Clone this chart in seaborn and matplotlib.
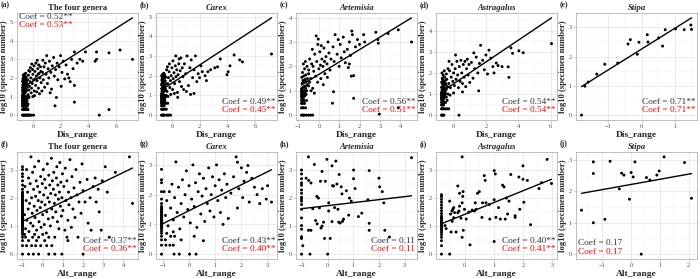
import pandas as pd
import seaborn as sns
import matplotlib.pyplot as plt
from matplotlib.ticker import MultipleLocator, AutoMinorLocator

# ---- points: (scaled range, log10 specimen number) ----
four_dis = [
    (-0.75, 0), (-0.7, 0), (-0.65, 0), (-0.6, 0), (-0.55, 0), (-0.5, 0), (-0.45, 0), (-0.4, 0),
    (-0.35, 0), (-0.3, 0), (-0.25, 0), (-0.2, 0), (-0.1, 0), (0.05, 0),
    (-0.75, .3), (-0.7, .3), (-0.65, .3), (-0.6, .3), (-0.55, .3), (-0.5, .3), (-0.45, .3), (-0.4, .3), (-0.35, .3),
    (-0.75, .48), (-0.7, .48), (-0.65, .48), (-0.6, .48), (-0.55, .48), (-0.5, .48), (-0.4, .48),
    (-0.75, .6), (-0.7, .6), (-0.65, .6), (-0.6, .6), (-0.5, .6), (-0.45, .6), (-0.35, .6),
    (-0.75, .7), (-0.7, .7), (-0.62, .7), (-0.55, .7), (-0.48, .7),
    (-0.75, .78), (-0.68, .78), (-0.6, .78), (-0.52, .78), (-0.42, .78),
    (-0.75, .85), (-0.7, .85), (-0.63, .85), (-0.55, .85), (-0.45, .85),
    (-0.73, .9), (-0.66, .9), (-0.58, .9), (-0.5, .9),
    (-0.74, .95), (-0.67, .95), (-0.6, .95), (-0.5, .95), (-0.38, .95),
    (-0.75, 1), (-0.7, 1), (-0.63, 1), (-0.55, 1), (-0.45, 1), (-0.3, 1),
    (-0.75, 1.08), (-0.7, 1.11), (-0.65, 1.15), (-0.6, 1.18), (-0.72, 1.2), (-0.55, 1.23), (-0.68, 1.26),
    (-0.5, 1.28), (-0.62, 1.3), (-0.75, 1.32), (-0.45, 1.34), (-0.58, 1.36), (-0.7, 1.4), (-0.52, 1.42),
    (-0.64, 1.45), (-0.75, 1.48), (-0.42, 1.5), (-0.56, 1.52), (-0.68, 1.55), (-0.48, 1.58), (-0.6, 1.6),
    (-0.73, 1.62), (-0.4, 1.65), (-0.54, 1.68), (-0.66, 1.7), (-0.46, 1.72), (-0.7, 1.75), (-0.58, 1.78),
    (-0.5, 1.8), (-0.74, 1.82), (-0.62, 1.85), (-0.44, 1.88), (-0.68, 1.9), (-0.55, 1.93), (-0.72, 1.96),
    (-0.6, 2.0), (-0.48, 2.03), (-0.66, 2.06), (-0.56, 2.1), (-0.7, 2.15), (-0.62, 2.2), (-0.52, 2.25),
    (-0.35, 1.1), (-0.3, 1.35), (-0.25, 1.55), (-0.2, 1.8), (-0.15, 2.0), (-0.1, 1.45), (-0.05, 1.7),
    (0.0, 2.2), (0.05, 1.9), (0.1, 1.3), (0.15, 2.35), (0.2, 1.6), (0.25, 2.1), (0.3, 1.85), (0.35, 2.5),
    (0.4, 1.45), (0.45, 2.25), (0.5, 2.0), (0.55, 2.6), (0.6, 1.75), (-0.38, 1.9), (-0.32, 2.15),
    (-0.28, 0.95), (-0.22, 2.35), (-0.12, 1.2), (-0.02, 2.45), (0.08, 2.65), (0.12, 1.05), (0.22, 2.8),
    (0.28, 1.25), (0.38, 2.2), (0.48, 1.15), (-0.18, 2.55), (0.0, 1.0), (0.32, 2.95), (0.42, 2.7),
    (-0.08, 2.75), (0.18, 1.95), (0.58, 2.35), (-0.3, 2.4),
    (0.7, 2.3), (0.75, 1.9), (0.8, 2.6), (0.85, 1.5), (0.9, 2.8), (0.95, 2.2), (1.0, 3.2), (1.05, 1.7),
    (1.1, 2.5), (1.15, 2.0), (1.2, 2.9), (1.3, 2.3), (1.35, 1.4), (1.4, 2.65), (1.5, 3.1), (1.55, 2.1),
    (1.6, 0.5), (1.65, 2.45), (1.7, 0.95), (1.75, 2.8), (1.8, 1.9), (1.9, 2.6), (2.0, 3.2), (2.1, 2.3),
    (2.2, 2.9), (2.3, 1.95), (2.4, 2.7), (2.5, 2.2), (2.6, 2.0), (2.7, 1.8), (2.8, 3.0), (2.9, 2.5),
    (3.0, 1.6), (3.0, 0.7), (3.0, 3.4), (3.2, 2.8), (3.4, 3.0), (3.6, 2.9), (3.8, 3.4), (0.65, 1.3),
    (0.72, 2.95), (1.25, 1.2), (2.05, 1.55),
    (4.5, 2.9), (4.6, 3.0), (4.6, 3.4), (4.8, 0.0), (5.5, 0.3), (5.5, 3.35), (6.3, 3.5), (7.2, 3.0),
]

carex_dis = [
    (-0.75, 0), (-0.7, 0), (-0.65, 0), (-0.6, 0), (-0.55, 0), (-0.4, 0), (-0.3, 0), (-0.2, 0), (-0.1, 0),
    (-0.75, .3), (-0.7, .3), (-0.65, .3), (-0.6, .3), (-0.5, .3), (-0.4, .3),
    (-0.75, .48), (-0.7, .48), (-0.65, .48), (-0.6, .48), (-0.55, .48),
    (-0.75, .6), (-0.7, .6), (-0.65, .6), (-0.55, .6), (-0.45, .6), (-0.3, .6),
    (-0.75, .7), (-0.68, .7), (-0.6, .7), (-0.5, .7),
    (-0.74, .78), (-0.66, .78), (-0.58, .78),
    (-0.75, .85), (-0.7, .85), (-0.6, .85), (-0.5, .85),
    (-0.72, .9), (-0.64, .9), (-0.55, .9),
    (-0.75, .95), (-0.68, .95), (-0.6, .95), (-0.45, .95),
    (-0.74, 1), (-0.66, 1), (-0.58, 1), (-0.5, 1), (-0.4, 1),
    (-0.75, 1.08), (-0.68, 1.12), (-0.6, 1.16), (-0.72, 1.2), (-0.52, 1.24), (-0.65, 1.28), (-0.45, 1.3),
    (-0.74, 1.34), (-0.58, 1.38), (-0.68, 1.42), (-0.5, 1.46), (-0.62, 1.5), (-0.75, 1.54), (-0.42, 1.58),
    (-0.55, 1.62), (-0.7, 1.66), (-0.6, 1.7), (-0.48, 1.74), (-0.73, 1.78), (-0.64, 1.82), (-0.54, 1.86),
    (-0.7, 1.9), (-0.45, 1.93), (-0.6, 1.96), (-0.74, 2.0), (-0.52, 2.04), (-0.66, 2.08), (-0.58, 2.12),
    (-0.7, 1.6),
    (-0.35, 1.2), (-0.3, 1.6), (-0.25, 1.9), (-0.2, 2.2), (-0.15, 1.4), (-0.1, 1.75), (-0.05, 2.0),
    (0.0, 2.4), (0.05, 1.3), (0.1, 1.85), (0.15, 2.15), (0.2, 1.6), (0.25, 2.5), (0.3, 1.95), (0.35, 2.3),
    (0.4, 1.15), (0.45, 2.05), (0.5, 2.6), (0.55, 1.7), (0.6, 2.25), (0.65, 2.9), (0.7, 1.45), (0.75, 2.4),
    (0.8, 1.95), (-0.38, 2.3), (-0.28, 0.95), (-0.18, 2.6), (-0.08, 1.05), (0.08, 2.75), (0.18, 1.1),
    (0.28, 3.0), (0.42, 0.9), (0.52, 2.85), (-0.32, 2.45),
    (0.9, 2.6), (1.0, 2.1), (1.1, 3.0), (1.2, 1.5), (1.3, 2.4), (1.4, 2.8), (1.5, 1.9), (1.6, 2.3),
    (1.7, 3.0), (1.8, 1.7), (1.9, 2.1), (2.0, 1.9), (2.1, 2.5), (2.2, 2.2), (2.6, 2.2), (2.8, 2.3),
    (3.1, 2.4), (3.3, 2.45), (3.5, 2.85), (1.05, 1.2), (1.35, 1.05), (0.85, 1.3), (1.6, 1.1), (2.5, 1.75),
    (2.4, 2.0),
    (3.98, 2.05), (4.07, 2.2), (4.2, 2.5), (4.5, 3.05), (4.9, 2.8), (5.1, 2.7), (7.2, 3.1),
]

artemisia_dis = [
    (-0.85, 0), (-0.8, 0), (-0.75, 0), (-0.7, 0), (-0.6, 0), (-0.5, 0), (-0.4, 0), (-0.3, 0),
    (-0.85, .3), (-0.8, .3), (-0.75, .3), (-0.65, .3),
    (-0.85, .48), (-0.78, .48), (-0.7, .48),
    (-0.85, .6), (-0.8, .6), (-0.72, .6), (-0.6, .6),
    (-0.84, .7), (-0.76, .7),
    (-0.85, .78), (-0.78, .78), (-0.7, .78),
    (-0.85, .85), (-0.8, .85), (-0.7, .85), (-0.62, .85),
    (-0.82, .9), (-0.74, .9),
    (-0.85, .95), (-0.78, .95), (-0.68, .95),
    (-0.85, 1), (-0.8, 1), (-0.72, 1), (-0.6, 1),
    (-0.85, 1.08), (-0.8, 1.12), (-0.75, 1.15), (-0.7, 1.18), (-0.65, 1.1), (-0.6, 1.22), (-0.55, 1.26),
    (-0.82, 1.3), (-0.72, 1.34), (-0.62, 1.38), (-0.5, 1.2), (-0.78, 1.42), (-0.68, 1.46), (-0.56, 1.5),
    (-0.45, 1.35), (-0.84, 1.55), (-0.74, 1.6), (-0.64, 1.65), (-0.5, 1.7), (-0.8, 1.75), (-0.7, 1.9),
    (-0.58, 2.0), (-0.76, 2.1), (-0.66, 2.2), (-0.5, 1.85),
    (-0.45, 2.3), (-0.4, 1.5), (-0.35, 2.1), (-0.3, 1.1), (-0.25, 1.8), (-0.2, 2.5), (-0.15, 1.6),
    (-0.1, 2.2), (-0.05, 2.9), (0.0, 1.9), (0.05, 2.6), (0.1, 1.5), (0.15, 2.3), (0.2, 2.0), (0.25, 2.75),
    (0.3, 1.7), (0.35, 2.4), (0.4, 2.1), (0.45, 3.0), (0.5, 2.55), (0.55, 1.85), (0.6, 2.3), (-0.13, 3.25),
    (-0.03, 3.12), (-0.38, 1.0), (-0.22, 0.9), (-0.32, 2.7), (0.12, 2.85), (0.28, 2.2), (0.42, 1.55),
    (-0.06, 1.35), (0.22, 1.25), (-0.28, 2.0), (0.08, 2.05),
    (0.7, 2.8), (0.75, 2.2), (0.8, 3.3), (0.9, 2.5), (0.95, 3.1), (1.0, 2.0), (1.05, 2.9), (1.1, 2.35),
    (1.2, 3.2), (1.25, 2.6), (1.3, 2.15), (1.4, 2.7), (1.45, 1.95), (1.5, 3.0), (1.55, 2.45), (1.6, 1.6),
    (1.62, 3.45), (1.65, 3.3), (1.71, 0.69), (1.71, 1.62), (1.8, 2.8), (1.9, 3.1), (2.0, 2.9), (2.2, 3.3),
    (2.25, 3.0), (2.8, 3.4), (2.9, 3.1), (2.92, 2.95), (0.67, 0.49), (0.72, 0.96), (1.5, 2.1), (2.97, 0.04),
    (3.4, 3.35), (3.9, 3.5), (4.55, 3.0), (3.9, 0.3),
]

astragalus_dis = [
    (-0.75, 0), (-0.7, 0), (-0.65, 0), (-0.6, 0), (0.33, 0),
    (-0.75, .3), (-0.7, .3), (-0.65, .3), (-0.6, .3), (-0.5, .3), (-0.4, .3), (-0.3, .3),
    (-0.75, .48), (-0.7, .48), (-0.62, .48),
    (-0.75, .6), (-0.68, .6), (-0.6, .6), (-0.5, .6),
    (-0.74, .7), (-0.66, .7), (-0.4, .7),
    (-0.75, .78), (-0.7, .78), (-0.6, .78),
    (-0.75, .85), (-0.68, .85), (-0.58, .85), (-0.45, .85),
    (-0.72, .9), (-0.62, .9),
    (-0.75, .95), (-0.66, .95), (-0.55, .95),
    (-0.75, 1), (-0.7, 1), (-0.6, 1), (-0.5, 1), (-0.35, 1),
    (-0.75, 1.08), (-0.68, 1.12), (-0.6, 1.16), (-0.52, 1.1), (-0.72, 1.2), (-0.64, 1.24), (-0.55, 1.28),
    (-0.45, 1.22), (-0.75, 1.32), (-0.66, 1.36), (-0.58, 1.4), (-0.48, 1.44), (-0.7, 1.48), (-0.6, 1.52),
    (-0.38, 1.35), (-0.74, 1.56), (-0.64, 1.6), (-0.52, 1.64), (-0.42, 1.7), (-0.7, 1.75), (-0.56, 1.8),
    (-0.65, 1.9), (-0.45, 1.95), (-0.72, 2.0), (-0.58, 2.1), (-0.35, 2.2), (-0.68, 1.68), (-0.5, 1.5),
    (-0.3, 1.5), (-0.25, 2.1), (-0.2, 1.3), (-0.15, 1.8), (-0.1, 2.4), (-0.05, 1.6), (0.0, 2.0),
    (0.05, 1.4), (0.1, 2.2), (0.15, 1.7), (0.2, 2.55), (0.25, 1.9), (0.3, 1.3), (0.35, 2.3), (0.4, 1.6),
    (0.45, 2.6), (0.5, 2.0), (0.55, 1.5), (0.6, 2.4), (0.65, 1.8), (0.7, 2.55), (0.75, 1.35), (0.8, 2.2),
    (0.85, 2.65), (0.9, 1.9), (0.95, 2.4), (1.0, 1.55), (-0.22, 0.95), (0.0, 1.05), (0.12, 2.85),
    (-0.28, 2.55), (0.55, 1.1),
    (1.1, 2.5), (1.2, 1.75), (1.3, 2.2), (1.4, 2.75), (1.5, 2.0), (1.6, 2.45), (1.67, 3.31), (1.8, 2.6),
    (1.9, 2.15), (2.0, 2.85), (2.1, 1.95), (2.19, 3.08), (2.3, 2.7), (2.43, 2.3), (2.5, 2.0), (2.64, 2.47),
    (2.75, 2.35), (3.0, 2.3), (3.42, 1.79), (3.38, 2.29), (3.55, 3.19), (3.65, 2.93), (4.04, 3.05),
    (4.31, 2.96), (6.06, 3.39), (1.55, 1.15), (1.25, 2.95),
]

stipa_dis = [
    (-1.81, 0), (-1.71, 0.99), (-1.61, 1.13), (-1.35, 1.40), (-1.11, 1.74), (-0.72, 1.78),
    (-0.41, 2.43), (-0.34, 2.58), (-0.13, 2.08), (-0.08, 2.49), (0.17, 2.75), (0.19, 2.50),
    (0.51, 2.64), (0.63, 2.36), (0.71, 2.92), (1.02, 2.95), (1.28, 2.92), (1.48, 3.08), (1.50, 2.93),
]

four_alt = [
    (-1.0, 0), (-1.0, .3), (-1.0, .48), (-1.0, .6), (-1.0, .7), (-1.0, .78), (-1.0, .85), (-1.0, .9),
    (-1.0, .95), (-1.0, 1.0), (-1.0, 1.04), (-1.0, 1.08), (-1.0, 1.11), (-1.0, 1.15), (-1.0, 1.18),
    (-1.0, 1.2), (-1.0, 1.23), (-1.0, 1.26), (-1.0, 1.28), (-1.0, 1.3), (-1.0, 1.32), (-1.0, 1.34),
    (-1.0, 1.36), (-1.0, 1.4), (-1.0, 1.45), (-1.0, 1.5), (-1.0, 1.55), (-1.0, 1.6), (-1.0, 1.65),
    (-1.0, 1.7), (-1.0, 1.75), (-1.0, 1.8), (-1.0, 1.85), (-1.0, 1.9), (-1.0, 1.95), (-1.0, 2.0),
    (-1.0, 2.05), (-1.0, 2.1), (-1.0, 2.15), (-1.0, 2.2), (-1.0, 2.3), (-1.0, 2.45), (-1.0, 2.6),
    (-1.0, 2.75), (-1.0, 2.85), (-1.0, 3.0), (-1.0, 3.1),
    (-0.9, 1.4), (-0.88, 2.4), (-0.85, 0.9), (-0.82, 1.9), (-0.8, 3.0), (-0.78, 1.2), (-0.75, 2.2),
    (-0.72, 1.6), (-0.7, 2.7), (-0.68, 0.8), (-0.65, 1.8), (-0.62, 2.5), (-0.6, 1.1), (-0.58, 3.45),
    (-0.55, 2.0), (-0.52, 1.45), (-0.5, 2.9),
    (-0.48, 1.0), (-0.45, 2.3), (-0.42, 1.7), (-0.4, 3.1), (-0.38, 1.3), (-0.35, 2.05), (-0.32, 2.6),
    (-0.3, 0.85), (-0.28, 1.55), (-0.25, 2.4), (-0.22, 1.9), (-0.2, 3.3), (-0.18, 1.15), (-0.15, 2.2),
    (-0.12, 1.65), (-0.1, 2.75), (-0.08, 0.95), (-0.05, 1.85), (-0.02, 2.5),
    (0.0, 1.4), (0.03, 3.0), (0.05, 2.1), (0.08, 1.05), (0.1, 2.65), (0.12, 1.75), (0.15, 2.35),
    (0.18, 0.75), (0.2, 1.5), (0.23, 3.2), (0.25, 2.0), (0.28, 1.25), (0.3, 2.8), (0.33, 1.85),
    (0.35, 2.45), (0.38, 1.0), (0.4, 2.15), (0.43, 3.4), (0.45, 1.6), (0.48, 2.6),
    (0.5, 1.3), (0.53, 2.3), (0.55, 2.9), (0.58, 1.8), (0.6, 0.6), (0.63, 2.1), (0.65, 1.5), (0.68, 2.7),
    (0.7, 3.1), (0.73, 1.15), (0.75, 2.45), (0.78, 1.95), (0.8, 0.9), (0.83, 2.2), (0.85, 3.25),
    (0.88, 1.7), (0.9, 2.55), (0.93, 1.35), (0.95, 2.0), (0.98, 2.85),
    (1.0, 1.55), (1.05, 2.4), (1.1, 0.85), (1.12, 3.05), (1.15, 1.9), (1.2, 2.6), (1.25, 1.2), (1.28, 2.2),
    (1.3, 1.75), (1.35, 3.35), (1.4, 2.0), (1.42, 0.95), (1.45, 2.75), (1.5, 1.6),
    (1.55, 2.35), (1.6, 1.3), (1.65, 3.0), (1.7, 2.1), (1.75, 0.6), (1.8, 1.85), (1.85, 2.55), (1.9, 1.45),
    (1.95, 3.2), (2.0, 0.0), (2.0, 2.25),
    (2.1, 1.85), (2.2, 2.65), (2.25, 1.1), (2.35, 2.0), (2.4, 0.85), (2.5, 2.4), (2.6, 2.7), (2.65, 1.85),
    (2.75, 2.3), (2.8, 1.5), (2.9, 0.85), (2.95, 2.6),
    (3.1, 3.1), (3.2, 2.2), (3.3, 0.6), (3.6, 2.9), (4.3, 3.45), (4.45, 1.8),
    (-0.7, 0), (-0.46, 0), (-0.2, 0), (0.3, 0), (0.6, 0), (0.95, 0),
    (-0.8, .3), (-0.55, .3), (-0.35, .3), (-0.1, .3), (0.2, .3), (0.45, .3),
    (-0.7, .48), (-0.3, .48), (0.1, .48), (1.25, .48),
    (-0.85, .6), (-0.5, .6), (-0.2, .6), (0.3, .6), (1.2, .6),
    (-0.9, .7), (-0.4, .7), (0.0, .7),
]

carex_alt = [
    (-1.05, 0), (-1.05, .3), (-1.05, .48), (-1.05, .6), (-1.05, .7), (-1.05, .78), (-1.05, .85),
    (-1.05, .9), (-1.05, .95), (-1.05, 1.0), (-1.05, 1.04), (-1.05, 1.08), (-1.05, 1.11), (-1.05, 1.15),
    (-1.05, 1.18), (-1.05, 1.2), (-1.05, 1.23), (-1.05, 1.26), (-1.05, 1.3), (-1.05, 1.34), (-1.05, 1.38),
    (-1.05, 1.42), (-1.05, 1.46), (-1.05, 1.5), (-1.05, 1.55), (-1.05, 1.6), (-1.05, 1.7), (-1.05, 1.85),
    (-1.05, 2.1), (-1.05, 2.4), (-1.05, 2.5), (-1.05, 2.85),
    (-0.57, 0), (-0.37, 0), (0.02, 0), (0.27, 0),
    (-0.88, .3), (-0.73, .3), (-0.6, .3),
    (-0.9, .48), (-0.7, .6), (-0.85, .7), (-0.55, .6), (-0.3, .48),
    (-0.95, 2.1), (-0.9, 1.3), (-0.85, 1.8), (-0.8, 0.95), (-0.75, 2.1), (-0.7, 1.55), (-0.65, 2.35),
    (-0.6, 1.15), (-0.55, 1.9), (-0.5, 3.1), (-0.45, 1.4), (-0.4, 2.25), (-0.35, 0.85), (-0.3, 1.7),
    (-0.25, 2.5), (-0.2, 1.25), (-0.15, 2.0), (-0.1, 2.8), (-0.05, 1.5), (0.0, 2.3),
    (0.05, 1.05), (0.1, 1.85), (0.15, 3.0), (0.2, 1.6), (0.25, 2.4), (0.3, 0.9), (0.35, 2.1), (0.4, 2.7),
    (0.45, 1.35), (0.5, 1.95), (0.55, 2.55), (0.6, 1.1), (0.65, 2.2), (0.7, 1.7), (0.75, 2.9),
    (0.8, 1.45), (0.85, 2.0), (0.9, 2.6), (0.95, 1.25), (1.0, 2.3),
    (1.05, 3.0), (1.1, 1.8), (1.15, 2.5), (1.2, 1.4), (1.25, 2.15), (1.3, 1.0), (1.35, 2.7), (1.4, 1.9),
    (1.45, 2.35), (1.5, 1.2), (1.6, 2.05), (1.7, 2.6), (1.8, 3.27), (1.85, 3.09), (1.85, 1.55),
    (1.9, 2.2), (2.0, 2.9), (2.05, 1.9), (2.1, 2.45), (2.25, 2.98), (2.2, 2.75), (2.3, 1.75), (2.4, 2.55),
    (2.5, 2.25), (2.6, 2.0), (2.7, 1.7), (2.8, 2.2), (2.95, 1.85), (3.0, 2.3), (3.15, 1.75),
    (-0.6, 0.75), (0.2, 0.6), (0.55, 0.45),
]

artemisia_alt = [
    (-1.02, 0), (-1.02, 0.56), (-1.02, 0.62), (-1.02, 0.89), (-1.02, 1.02), (-1.02, 1.29),
    (-1.02, 1.6), (-1.02, 1.77), (-1.02, 1.89), (-1.02, 1.97), (-1.02, 2.03), (-1.02, 2.17),
    (-1.02, 2.29), (-1.02, 2.46), (-1.02, 2.54), (-1.02, 2.69), (-1.02, 2.86), (-1.02, 3.0),
    (-0.97, 0.3), (-0.75, 3.47), (-0.69, 0), (-0.75, 0.85), (-0.65, 0.85), (-0.84, 2.71),
    (-0.74, 2.63), (-0.65, 2.54), (-0.58, 1.62), (-0.52, 3.2), (-0.42, 2.06), (-0.36, 2.0),
    (-0.47, 1.2), (-0.41, 1.08), (-0.32, 1.65), (-0.28, 2.6), (-0.22, 2.95), (-0.26, 0.93),
    (-0.16, 1.14), (-0.12, 0.56), (-0.09, 2.6), (-0.03, 3.38), (0.0, 0), (0.04, 1.54),
    (0.1, 0.56), (0.17, 3.15), (0.19, 2.44), (0.23, 2.43), (0.27, 1.66), (0.32, 3.32),
    (0.36, 2.5), (0.4, 1.6), (0.43, 1.14), (0.45, 2.84), (0.49, 1.11), (0.53, 2.4),
    (0.56, 2.15), (0.62, 1.25), (0.73, 2.26), (0.82, 1.39), (0.85, 2.0), (0.92, 1.89),
    (1.01, 3.0), (1.01, 2.69), (1.07, 2.34), (1.2, 1.34), (1.33, 1.46), (1.62, 2.98),
    (1.62, 1.1), (1.62, 0.85), (1.57, 1.94), (2.0, 2.71), (2.03, 2.4), (2.13, 2.23),
    (2.23, 0.85), (2.19, 1.83), (2.41, 0.61), (3.27, 3.44), (-0.22, 1.0), (0.04, 1.83),
    (0.17, 1.16), (0.58, 1.17),
]

astragalus_alt = [
    (-0.8, 0), (-0.8, .3), (-0.8, .48), (-0.8, .6), (-0.8, .7), (-0.8, .78), (-0.8, .85), (-0.8, .9),
    (-0.8, .95), (-0.8, 1.0), (-0.8, 1.04), (-0.8, 1.08), (-0.8, 1.11), (-0.8, 1.15), (-0.8, 1.2),
    (-0.8, 1.25), (-0.8, 1.3), (-0.8, 1.36), (-0.8, 1.45), (-0.8, 1.55), (-0.8, 1.65), (-0.8, 1.75),
    (-0.8, 1.85), (-0.8, 1.95), (-0.8, 2.05), (-0.8, 2.12),
    (-0.52, 0), (-0.64, 0.91), (-0.52, 1.89), (-0.49, 1.43), (-0.44, 1.54), (-0.41, 1.6), (-0.38, 1.66),
    (-0.35, 1.48), (-0.38, 1.3), (-0.43, 1.17), (-0.47, 0.79), (-0.3, 0.79), (-0.24, 1.48), (-0.2, 1.54),
    (-0.18, 1.71), (-0.24, 2.43), (-0.18, 2.17), (-0.13, 1.28), (-0.09, 1.83), (-0.09, 0.6),
    (-0.09, 3.47), (-0.07, 2.06), (-0.06, 2.23), (-0.05, 0.85), (-0.01, 1.6), (0.05, 1.25),
    (0.14, 1.5), (0.18, 0.33), (0.25, 1.57), (0.33, 1.54), (0.36, 1.83), (0.39, 1.6), (0.44, 2.17),
    (0.5, 2.23), (0.59, 1.31), (0.61, 1.83), (0.67, 2.8), (0.7, 2.63), (0.73, 1.83), (0.84, 1.77),
    (0.86, 1.25), (1.01, 2.98), (1.01, 0.45), (1.05, 2.86), (1.01, 1.94), (1.07, 1.31), (1.16, 1.66),
    (1.22, 1.25), (1.3, 2.46), (1.35, 2.4), (1.39, 1.25), (1.43, 2.0), (1.47, 1.43), (1.52, 1.89),
    (1.58, 2.84), (1.73, 1.37), (1.73, 1.31), (1.86, 2.75), (1.89, 1.6), (2.0, 3.15), (2.0, 2.67),
    (2.03, 1.85), (2.15, 2.63), (2.26, 1.05), (2.55, 2.34), (2.64, 2.55), (2.83, 3.38), (2.98, 2.52),
    (-0.68, 1.02),
]

stipa_alt = [
    (-1.71, 1.40), (-1.30, 2.94), (-1.30, 2.57), (-1.30, 1.0), (-0.90, 1.11), (-0.72, 2.96),
    (-0.32, 2.58), (-0.24, 2.52), (-0.40, 2.08), (-0.05, 1.75), (0.01, 2.60), (0.08, 2.46),
    (0.14, 2.94), (0.36, 0), (0.54, 2.44), (0.66, 2.36), (0.90, 2.52), (0.98, 2.65),
    (1.15, 3.10), (1.86, 2.92), (2.10, 1.78),
]

panels = [four_dis, carex_dis, artemisia_dis, astragalus_dis, stipa_dis,
          four_alt, carex_alt, artemisia_alt, astragalus_alt, stipa_alt]
tags = ["(a)", "(b)", "(c)", "(d)", "(e)", "(f)", "(g)", "(h)", "(i)", "(j)"]
titles = ["The four genera", "Carex", "Artemisia", "Astragalus", "Stipa"] * 2
x_labels = ["Dis_range"] * 5 + ["Alt_range"] * 5
coef_black = ["0.52**", "0.49**", "0.56**", "0.54**", "0.71**",
              "0.37**", "0.43**", "0.11", "0.40**", "0.17"]
coef_red = ["0.53**", "0.45**", "0.51**", "0.54**", "0.71**",
            "0.36**", "0.40**", "0.11", "0.41**", "0.17"]
coef_corner = ["tl", "br", "br", "br", "br", "br", "br", "br", "br", "bl"]
# fitted line (intercept, slope)
fit_icpt = [1.82, 1.62, 1.67, 1.49, 2.26, 1.51, 1.46, 1.73, 1.42, 2.22]
fit_slope = [0.474, 0.46, 0.51, 0.515, 0.71, 0.347, 0.437, 0.107, 0.42, 0.165]
x_step = [2, 2, 1, 2, 1, 1, 1, 1, 1, 1]

sns.set_theme(style="white")
plt.rcParams["font.family"] = ["Liberation Serif", "DejaVu Serif"]

W, H = 700, 279
fig = plt.figure(figsize=(7, 2.79), dpi=100)
col_left = [17, 156, 296, 436, 576]
row_top = [13, 152]
ax_w, ax_h = 121, 107

for i, pts in enumerate(panels):
    r, c = divmod(i, 5)
    left = col_left[c] / W
    bottom = 1 - (row_top[r] + ax_h) / H
    ax = fig.add_axes([left, bottom, ax_w / W, ax_h / H])
    df = pd.DataFrame(pts, columns=["x", "y"])

    ax.set_axisbelow(True)
    ax.xaxis.set_major_locator(MultipleLocator(x_step[i]))
    ax.yaxis.set_major_locator(MultipleLocator(1))
    ax.xaxis.set_minor_locator(AutoMinorLocator(2))
    ax.yaxis.set_minor_locator(AutoMinorLocator(2))
    ax.grid(True, which="major", color="#E3E3E3", lw=0.5)
    ax.grid(True, which="minor", color="#EEEEEE", lw=0.35)

    sns.scatterplot(data=df, x="x", y="y", ax=ax, s=4.5, color="black",
                    linewidth=0, edgecolor="none", zorder=3)
    xs = [df["x"].min(), df["x"].max()]
    fit = pd.DataFrame({"x": xs, "y": [fit_icpt[i] + fit_slope[i] * v for v in xs]})
    sns.lineplot(data=fit, x="x", y="y", ax=ax, color="black", lw=1.0, zorder=4)
    ax.margins(0.05)

    for s in ax.spines.values():
        s.set_color("#B3B3B3")
        s.set_linewidth(0.6)
    ax.tick_params(axis="both", which="major", length=2, width=0.4, color="#B3B3B3",
                   labelsize=4.6, labelcolor="#4D4D4D", pad=1, bottom=True, left=True)
    ax.tick_params(which="minor", length=0)

    ax.set_xlabel(x_labels[i], fontsize=6.8, fontweight="bold", labelpad=1)
    ax.set_ylabel("log10 (specimen number)", fontsize=6.2, fontweight="bold", labelpad=1)
    ax.set_title(titles[i], fontsize=6.2, fontweight="bold",
                 style="normal" if i % 5 == 0 else "italic", pad=2.5)

    corner = coef_corner[i]
    if corner == "tl":
        xp, ha, y1, y2 = 0.02, "left", 0.965, 0.885
    elif corner == "br":
        xp, ha, y1, y2 = 0.985, "right", 0.171, 0.09
    else:
        xp, ha, y1, y2 = 0.02, "left", 0.15, 0.065
    ax.text(xp, y1, "Coef = " + coef_black[i], transform=ax.transAxes, ha=ha, va="center",
            fontsize=6.7, color="#333333")
    ax.text(xp, y2, "Coef = " + coef_red[i], transform=ax.transAxes, ha=ha, va="center",
            fontsize=6.7, color="red")

    fig.text((col_left[c] - 16) / W, 1 - (row_top[r] - 8) / H, tags[i],
             fontsize=5.5, fontweight="bold", ha="left", va="center")

fig.savefig("out.png", dpi=100, facecolor="white")
